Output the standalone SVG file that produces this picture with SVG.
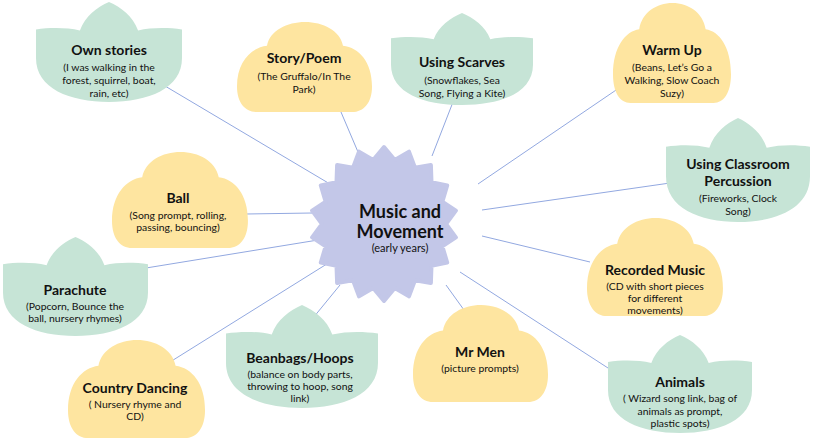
<svg xmlns="http://www.w3.org/2000/svg" xmlns:xlink="http://www.w3.org/1999/xlink" width="814" height="444" viewBox="0 0 814 444">
<style>
.lotus{fill:#c6e4d6}
.cloud{fill:#fee5a0}
.hub{fill:#c3c7e8;stroke:#c3c7e8;stroke-width:4;stroke-linejoin:round}
.conn line{stroke:#92a8e0;stroke-width:1}
text{font-family:Lato,"Open Sans",sans-serif;fill:#111;text-anchor:middle}
.t{font-weight:700;font-size:14px}
.s{font-size:10.4px}
.ht{font-weight:700;font-size:18px}
.hs{font-size:11px}
</style>
<defs>
<path id="lotusShape" d="M71.5,98 C33,98 0,85 0,55 L0,27 C14,25 30,25 43,28 C48,14 60,5 71.5,0 C83,5 95,14 100,28 C113,25 129,25 143,27 L143,55 C143,85 110,98 71.5,98 Z"/>
<path id="cloudShape" d="M20,95 C8,95 0,85 0,68 C0,42 14,27 30,25 C33,9 50,0 68,0 C86,0 103,9 106,25 C122,27 135,42 135,68 C135,85 127,95 115,95 Z"/>
</defs>
<rect width="814" height="444" fill="#fff"/>
<g class="conn" id="connectors">
<line x1="165" y1="86" x2="330" y2="184"/>
<line x1="338" y1="105" x2="358" y2="152"/>
<line x1="453" y1="102" x2="432" y2="156"/>
<line x1="622" y1="86" x2="478" y2="184"/>
<line x1="670" y1="183" x2="482" y2="210"/>
<line x1="590" y1="262" x2="482" y2="236"/>
<line x1="608" y1="368" x2="460" y2="272"/>
<line x1="464" y1="310" x2="446" y2="285"/>
<line x1="313" y1="318" x2="340" y2="285"/>
<line x1="170" y1="362" x2="330" y2="262"/>
<line x1="146" y1="268" x2="318" y2="240"/>
<line x1="246" y1="214" x2="312" y2="213"/>
</g>
<g id="hub">
<polygon class="hub" points="384,147 394.8,160 409,151.6 415,167.7 430.9,165 431.5,182.2 447.2,185.5 442.3,201.8 455.9,210.6 446,224 455.9,237.4 442.3,246.2 447.2,262.5 431.5,265.8 430.9,283 415,280.3 409,296.4 394.8,288 384,301 373.2,288 359,296.4 353,280.3 337.1,283 336.5,265.8 320.8,262.5 325.7,246.2 312.1,237.4 322,224 312.1,210.6 325.7,201.8 320.8,185.5 336.5,182.2 337.1,165 353,167.7 359,151.6 373.2,160"/>
<text class="ht" x="400" y="218">Music and</text>
<text class="ht" x="400" y="238">Movement</text>
<text class="hs" x="400" y="252">(early years)</text>
</g>
<g id="own-stories">
<use xlink:href="#lotusShape" class="lotus" transform="translate(36,2) scale(1.021,1.02)"/>
<text class="t" x="109" y="55">Own stories</text>
<text class="s" x="109" y="70.5">(I was walking in the</text>
<text class="s" x="109" y="83.5">forest, squirrel, boat,</text>
<text class="s" x="109" y="96.5">rain, etc)</text>
</g>
<g id="story-poem">
<use xlink:href="#cloudShape" class="cloud" transform="translate(237,22) scale(1,0.947)"/>
<text class="t" x="304" y="63">Story/Poem</text>
<text class="s" x="304" y="79.5">(The Gruffalo/In The</text>
<text class="s" x="304" y="93">Park)</text>
</g>
<g id="using-scarves">
<use xlink:href="#lotusShape" class="lotus" transform="translate(391,13) scale(0.993,0.939)"/>
<text class="t" x="462" y="67">Using Scarves</text>
<text class="s" x="462" y="83.5">(Snowflakes, Sea</text>
<text class="s" x="462" y="97">Song, Flying a Kite)</text>
</g>
<g id="warm-up">
<use xlink:href="#cloudShape" class="cloud" transform="translate(613,3) scale(0.874,1.053)"/>
<text class="t" x="672" y="55">Warm Up</text>
<text class="s" x="672" y="70.5">(Beans, Let’s Go a</text>
<text class="s" x="672" y="83.5">Walking, Slow Coach</text>
<text class="s" x="672" y="96.5">Suzy)</text>
</g>
<g id="classroom-percussion">
<use xlink:href="#lotusShape" class="lotus" transform="translate(666,118) scale(1.007,1.061)"/>
<text class="t" x="738" y="169">Using Classroom</text>
<text class="t" x="738" y="186">Percussion</text>
<text class="s" x="738" y="201.5">(Fireworks, Clock</text>
<text class="s" x="738" y="214.5">Song)</text>
</g>
<g id="recorded-music">
<use xlink:href="#cloudShape" class="cloud" transform="translate(587,218) scale(1.007,1.032)"/>
<text class="t" x="655" y="275">Recorded Music</text>
<text class="s" x="655" y="289.5">(CD with short pieces</text>
<text class="s" x="655" y="302">for different</text>
<text class="s" x="655" y="314">movements)</text>
</g>
<g id="animals">
<use xlink:href="#lotusShape" class="lotus" transform="translate(608,335) scale(1.007,1)"/>
<text class="t" x="680" y="387">Animals</text>
<text class="s" x="680" y="402">( Wizard song link, bag of</text>
<text class="s" x="680" y="414.5">animals as prompt,</text>
<text class="s" x="680" y="427">plastic spots)</text>
</g>
<g id="mr-men">
<use xlink:href="#cloudShape" class="cloud" transform="translate(413,305) scale(1,1.021)"/>
<text class="t" x="480" y="357">Mr Men</text>
<text class="s" x="480" y="371.5">(picture prompts)</text>
</g>
<g id="beanbags-hoops">
<use xlink:href="#lotusShape" class="lotus" transform="translate(226,305) scale(1.063,1.051)"/>
<text class="t" x="300" y="363">Beanbags/Hoops</text>
<text class="s" x="300" y="377.5">(balance on body parts,</text>
<text class="s" x="300" y="390">throwing to hoop, song</text>
<text class="s" x="300" y="402">link)</text>
</g>
<g id="country-dancing">
<use xlink:href="#cloudShape" class="cloud" transform="translate(68,340) scale(1.015,1.032)"/>
<text class="t" x="135" y="393">Country Dancing</text>
<text class="s" x="135" y="407.5">( Nursery rhyme and</text>
<text class="s" x="135" y="420">CD)</text>
</g>
<g id="parachute">
<use xlink:href="#lotusShape" class="lotus" transform="translate(3,237) scale(1.014,1.01)"/>
<text class="t" x="75" y="295">Parachute</text>
<text class="s" x="75" y="309.5">(Popcorn, Bounce the</text>
<text class="s" x="75" y="322">ball, nursery rhymes)</text>
</g>
<g id="ball">
<use xlink:href="#cloudShape" class="cloud" transform="translate(112,152) scale(1.007,1.011)"/>
<text class="t" x="178" y="203">Ball</text>
<text class="s" x="178" y="218.5">(Song prompt, rolling,</text>
<text class="s" x="178" y="231">passing, bouncing)</text>
</g>
</svg>
